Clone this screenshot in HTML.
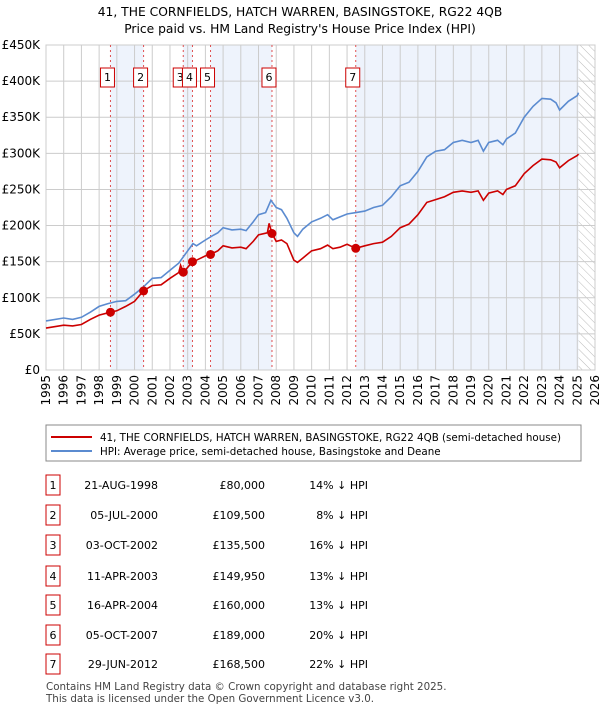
<!DOCTYPE html>
<html><head><meta charset="utf-8"><style>
body{margin:0;background:#fff;font-family:"Liberation Sans","DejaVu Sans",sans-serif;}
#wrap{position:relative;width:600px;height:710px;overflow:hidden}
svg text{font-family:"DejaVu Sans","Liberation Sans",sans-serif}
</style></head><body><div id="wrap">
<svg id="s" width="600" height="710" xmlns="http://www.w3.org/2000/svg">
<defs><pattern id="hatch" width="6" height="6" patternUnits="userSpaceOnUse" patternTransform="rotate(-45)"><line x1="0" y1="0" x2="0" y2="6" stroke="#bbb" stroke-width="1"/></pattern></defs>
<text x="300" y="16" text-anchor="middle" font-size="12.3">41, THE CORNFIELDS, HATCH WARREN, BASINGSTOKE, RG22 4QB</text>
<text x="300" y="33" text-anchor="middle" font-size="12.3">Price paid vs. HM Land Registry's House Price Index (HPI)</text>
<g id="plot"></g>
<rect x="46" y="425" width="535" height="36" fill="#fff" stroke="#888"/>
<line x1="51" y1="437" x2="92" y2="437" stroke="#cc0000" stroke-width="2"/>
<text x="100" y="441" font-size="10.3">41, THE CORNFIELDS, HATCH WARREN, BASINGSTOKE, RG22 4QB (semi-detached house)</text>
<line x1="51" y1="451" x2="92" y2="451" stroke="#5b8bd0" stroke-width="2"/>
<text x="100" y="455" font-size="10.3">HPI: Average price, semi-detached house, Basingstoke and Deane</text>
<g id="table"></g>
<text x="46" y="690" font-size="10.3" fill="#444">Contains HM Land Registry data © Crown copyright and database right 2025.</text>
<text x="46" y="702" font-size="10.3" fill="#444">This data is licensed under the Open Government Licence v3.0.</text>
</svg></div>
<script>
const hpiYears=[1995,1996,1996.5,1997,1997.5,1998,1998.5,1999,1999.5,2000,2000.5,2001,2001.5,2002,2002.5,2003,2003.3,2003.5,2004,2004.4,2004.7,2005,2005.5,2006,2006.3,2006.7,2007,2007.4,2007.7,2008,2008.3,2008.6,2009,2009.2,2009.5,2010,2010.5,2010.9,2011.2,2011.6,2012,2012.5,2013,2013.5,2014,2014.5,2015,2015.5,2016,2016.5,2017,2017.5,2018,2018.5,2019,2019.4,2019.7,2020,2020.5,2020.8,2021,2021.5,2022,2022.5,2023,2023.5,2023.8,2024,2024.5,2025,2025.07];
const hpiValues=[68,72,70,73,80,88,92,95,96,105,115,127,128,138,148,165,175,172,180,186,190,197,194,195,193,205,215,218,235,225,222,210,190,185,195,205,210,215,208,212,216,218,220,225,228,240,255,260,275,295,303,305,315,318,315,318,303,315,318,312,320,328,350,365,376,375,370,360,372,380,384];
const propYears=[1995,1996,1996.5,1997,1997.5,1998,1998.64,1999,1999.5,2000,2000.51,2001,2001.5,2002,2002.5,2002.6,2002.75,2003.27,2003.5,2004,2004.29,2004.7,2005,2005.5,2006,2006.3,2006.7,2007,2007.5,2007.6,2007.76,2008,2008.3,2008.6,2009,2009.2,2009.5,2010,2010.5,2010.9,2011.2,2011.6,2012,2012.49,2013,2013.5,2014,2014.5,2015,2015.5,2016,2016.5,2017,2017.5,2018,2018.5,2019,2019.4,2019.7,2020,2020.5,2020.8,2021,2021.5,2022,2022.5,2023,2023.5,2023.8,2024,2024.5,2025,2025.07];
const propValues=[58,62,61,63,70,76,80,82,88,95,110,117,118,127,135,145,135,150,152,158,160,165,172,169,170,168,178,187,190,203,189,178,180,175,152,149,155,165,168,173,168,170,174,168.5,172,175,177,185,197,202,215,232,236,240,246,248,246,248,235,245,248,243,250,255,272,283,292,291,288,280,290,297,299];
const saleLabels=["1","2","3","4","5","6","7"];
const saleDates=["21-AUG-1998","05-JUL-2000","03-OCT-2002","11-APR-2003","16-APR-2004","05-OCT-2007","29-JUN-2012"];
const saleYears=[1998.64,2000.51,2002.75,2003.27,2004.29,2007.76,2012.49];
const salePrices=[80000,109500,135500,149950,160000,189000,168500];
const salePct=["14%","8%","16%","13%","13%","20%","22%"];
const yTicks=[0,50,100,150,200,250,300,350,400,450];
const yTickLabels=["£0","£50K","£100K","£150K","£200K","£250K","£300K","£350K","£400K","£450K"];
const xTicks=[1995,1996,1997,1998,1999,2000,2001,2002,2003,2004,2005,2006,2007,2008,2009,2010,2011,2012,2013,2014,2015,2016,2017,2018,2019,2020,2021,2022,2023,2024,2025,2026];
const dataEnd=2025.07;

const NS="http://www.w3.org/2000/svg";
const L=46,R=595,T=45,B=370;
const xs=y=>L+(y-1995)/(2026-1995)*(R-L);
const ys=v=>B-v/450*(B-T);
const g=document.getElementById('plot');
function mk(tag,at,parent){const e=document.createElementNS(NS,tag);for(const k in at)e.setAttribute(k,at[k]);(parent||g).appendChild(e);return e;}
const bands=[[saleYears[0],saleYears[1]],[saleYears[2],saleYears[3]],[saleYears[4],saleYears[5]],[saleYears[6],dataEnd]];
bands.forEach((b,i)=>{const r=mk('rect',{x:xs(b[0]),y:T,width:xs(b[1])-xs(b[0]),height:B-T,fill:'#eef3fc'});

});
const h=mk('rect',{x:xs(dataEnd),y:T,width:R-xs(dataEnd),height:B-T,fill:'url(#hatch)'});


xTicks.forEach(t=>{const l=mk('line',{x1:xs(t),x2:xs(t),y1:T,y2:B,stroke:'#ccc','stroke-width':1});


const tx=mk('text',{x:0,y:0,'font-size':12,'text-anchor':'end',transform:`translate(${xs(t)+4},${B+5}) rotate(-90)`});tx.textContent=t;

});
yTicks.forEach((t,i)=>{const l=mk('line',{x1:L,x2:R,y1:ys(t),y2:ys(t),stroke:'#ccc','stroke-width':1});


const tx=mk('text',{x:L-6,y:ys(t)+4,'font-size':12,'text-anchor':'end'});tx.textContent=yTickLabels[i];

});
mk('rect',{x:L,y:T,width:R-L,height:B-T,fill:'none',stroke:'#ccc'});
saleYears.forEach((y,i)=>{const l=mk('line',{x1:xs(y),x2:xs(y),y1:T,y2:B,stroke:'#e05050','stroke-dasharray':'2,3','stroke-width':1});

});
function path(xa,va,col,name){const d=xa.map((x,i)=>(i?'L':'M')+xs(x).toFixed(1)+','+ys(va[i]).toFixed(1)).join('');
const p=mk('path',{d:d,fill:'none',stroke:col,'stroke-width':1.6});

}
path(hpiYears,hpiValues,'#5b8bd0','hpi-line');
path(propYears,propValues,'#cc0000','property-line');
saleYears.forEach((y,i)=>{const c=mk('circle',{cx:xs(y),cy:ys(salePrices[i]/1000),r:4.5,fill:'#cc0000'});


const bx=mk('rect',{x:xs(y)-10,y:68,width:14,height:19,fill:'#fff',stroke:'#cc0000'});


const t=mk('text',{x:xs(y)-3,y:81,'font-size':11,'text-anchor':'middle'});t.textContent=saleLabels[i];

});
const tb=document.getElementById('table');
const rowY=[485,515,545,576,605,635,664];
saleLabels.forEach((s,i)=>{const y=rowY[i];
const b=mk('rect',{x:46,y:y-10,width:14,height:20,fill:'#fff',stroke:'#cc0000'},tb);


const cells=[[53,'middle',s,'table-row-number'],[158,'end',saleDates[i],'table-row-date'],[265,'end','£'+salePrices[i].toLocaleString('en-GB'),'table-row-price'],[368,'end',salePct[i]+' ↓ HPI','table-row-hpi-diff']];
cells.forEach(c=>{const t=mk('text',{x:c[0],y:y+4,'font-size':11,'text-anchor':c[1]},tb);t.textContent=c[2];

});});
</script></body></html>
